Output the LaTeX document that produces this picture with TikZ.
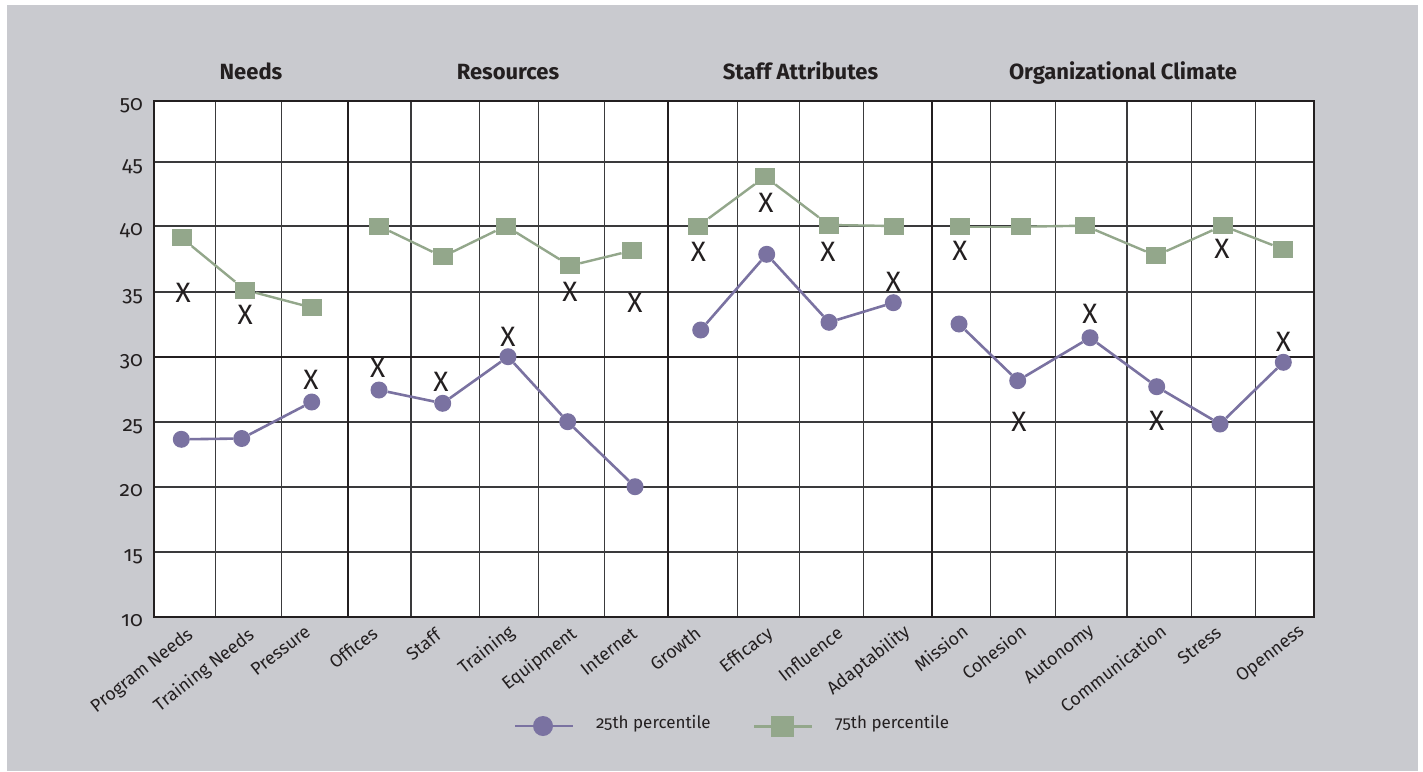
\documentclass[tikz,border=0pt]{standalone}
\usepackage{fontspec}
\setmainfont{Fira Sans}[Numbers=OldStyle]
\definecolor{bgray}{HTML}{C9CACF}
\definecolor{ink}{HTML}{231F20}
\definecolor{gridc}{HTML}{3A3A3C}
\definecolor{purp}{HTML}{7A72A1}
\definecolor{sage}{HTML}{93A78B}
\tikzset{
  gridline/.style={draw=gridc,line width=1.2pt},
  sepline/.style={draw=ink,line width=2.4pt},
  frameline/.style={draw=ink,line width=1.5pt},
  ticklab/.style={font=\fontsize{21}{23}\selectfont,text=ink,anchor=base east,inner sep=0pt},
  catlab/.style={font=\fontsize{18}{20}\selectfont,text=ink,anchor=north east,rotate=38,inner sep=0pt},
  grouptitle/.style={font=\fontsize{22}{24}\selectfont\bfseries,text=ink,anchor=base,inner sep=0pt},
  legtext/.style={font=\fontsize{17}{19}\selectfont,text=ink,anchor=base west,inner sep=0pt},
  xmark/.style={font=\fontsize{28}{30}\selectfont,text=ink,inner sep=0pt},
  dot/.style={circle,fill=purp,inner sep=0pt,minimum size=17pt},
  sq/.style={rectangle,fill=sage,inner sep=0pt,minimum width=20pt,minimum height=17pt},
  pline/.style={draw=purp,line width=2.6pt},
  gline/.style={draw=sage,line width=2.4pt}
}
\begin{document}
\begin{tikzpicture}[x=1pt,y=-1pt]
\useasboundingbox (0,0) rectangle (1423,771);
\fill[white] (0,0) rectangle (1423,771);
\fill[bgray] (7,5) rectangle (1418,771);
\fill[white] (154,101) rectangle (1314,617);
% grid
\foreach \gx in {215.3,281.3,411,479.3,538.3,604.3,737.7,799.3,863.7,990.7,1055.3,1127,1191.7,1255.3}
  \draw[gridline] (\gx,101) -- (\gx,617);
\foreach \gy in {162,226,292,422,487,552}
  \draw[gridline] (154,\gy) -- (1314,\gy);
\draw[gridline,line width=2pt,draw=ink] (154,357) -- (1314,357);
\foreach \gx in {347.7,667.7,931.7}
  \draw[sepline] (\gx,101) -- (\gx,617);
\draw[frameline] (154,101) rectangle (1314,617);
% tick labels
\foreach \ty/\tl in {101/50,162/45,226/40,292/35,357/30,422/25,487/20,552/15,617/10}
  \node[ticklab] (tick\tl) at (143,\ty+9) {\tl};
% titles
\node[grouptitle] (tneeds) at (251,79.5) {Needs};
\node[grouptitle] (tres) at (508,79.5) {Resources};
\node[grouptitle] (tstaff) at (800.5,79.5) {Staff Attributes};
\node[grouptitle] (tclim) at (1123,79.5) {Organizational Climate};
% category labels
\foreach \ci/\cx/\cy/\ct in {
  1/185.7/626/Program Needs, 2/246.7/626/Training Needs, 3/304/624/Pressure,
  4/370.7/625/Offices, 5/434/627/Staff, 6/507/623/Training, 7/569/625/Equipment,
  8/630.7/626/Internet, 9/694/625/Growth, 10/765.7/625/Efficacy, 11/835.7/625/Influence,
  12/902.3/623/Adaptability, 13/960.7/623/Mission, 14/1019/623/Cohesion,
  15/1087.3/623/Autonomy, 16/1159/623/Communication, 17/1214.7/625/Stress, 18/1297.3/623/Openness}
  \node[catlab] (cat\ci) at (\cx,\cy) {\ct};
% data markers
\foreach \i/\qx/\qy/\px/\py/\xx/\xy in {
  1/181.5/237.7/181.3/439.3/183.3/293.3,
  2/245.3/290/241.7/438.5/245.3/315,
  3/312.3/307.7/311.7/402/311/380,
  4/379/226/379/390/377.7/368.3,
  5/442.7/256.7/442.7/403.3/441/381.7,
  6/505.7/226/508/356.7/508/336.7,
  7/570/265.7/567.7/421.7/570/292.3,
  8/631.7/250.7/635/486.7/635/302.7,
  9/698.3/226/700.7/330/698.3/251.7,
  10/765/176.7/766.7/254.3/766/202.7,
  11/829/225/829/322.3/828/251.7,
  12/894/226/893.3/302.7/893.3/281.7,
  13/960/226.7/959/324/960/251,
  14/1021/226.7/1017.7/380.7/1019/421.7,
  15/1085/225.7/1090/337.7/1090/314,
  16/1156/255.7/1156.7/386.7/1156.7/420.7,
  17/1222.7/225.7/1220/424/1222/249.3,
  18/1282.7/249/1283.3/362.3/1283.3/341.7}
{
  \node[sq] (q\i) at (\qx,\qy) {};
  \node[dot] (p\i) at (\px,\py) {};
  \node[xmark] (x\i) at (\xx,\xy) {X};
}
% connectors 25th
\draw[pline] (p1) -- (p2);
\draw[pline] (p2) -- (p3);
\draw[pline] (p4) -- (p5);
\draw[pline] (p5) -- (p6);
\draw[pline] (p6) -- (p7);
\draw[pline] (p7) -- (p8);
\draw[pline] (p9) -- (p10);
\draw[pline] (p10) -- (p11);
\draw[pline] (p11) -- (p12);
\draw[pline] (p13) -- (p14);
\draw[pline] (p14) -- (p15);
\draw[pline] (p15) -- (p16);
\draw[pline] (p16) -- (p17);
\draw[pline] (p17) -- (p18);
% connectors 75th
\draw[gline] (q1) -- (q2);
\draw[gline] (q2) -- (q3);
\draw[gline] (q4) -- (q5);
\draw[gline] (q5) -- (q6);
\draw[gline] (q6) -- (q7);
\draw[gline] (q7) -- (q8);
\draw[gline] (q9) -- (q10);
\draw[gline] (q10) -- (q11);
\draw[gline] (q11) -- (q12);
\draw[gline] (q13) -- (q14);
\draw[gline] (q14) -- (q15);
\draw[gline] (q15) -- (q16);
\draw[gline] (q16) -- (q17);
\draw[gline] (q17) -- (q18);
% legend
\coordinate (la) at (515,726);
\coordinate (lb) at (573,726);
\draw[pline] (la) -- (lb);
\node[dot,minimum size=20pt] (lp) at (543,726) {};
\node[legtext] (lt1) at (596,728) {25th percentile};
\coordinate (lc) at (754,726.5);
\coordinate (ld) at (812,726.5);
\draw[gline] (lc) -- (ld);
\node[sq,minimum width=23pt,minimum height=21pt] (lq) at (782.5,726.3) {};
\node[legtext] (lt2) at (835,728) {75th percentile};
\end{tikzpicture}
\end{document}
